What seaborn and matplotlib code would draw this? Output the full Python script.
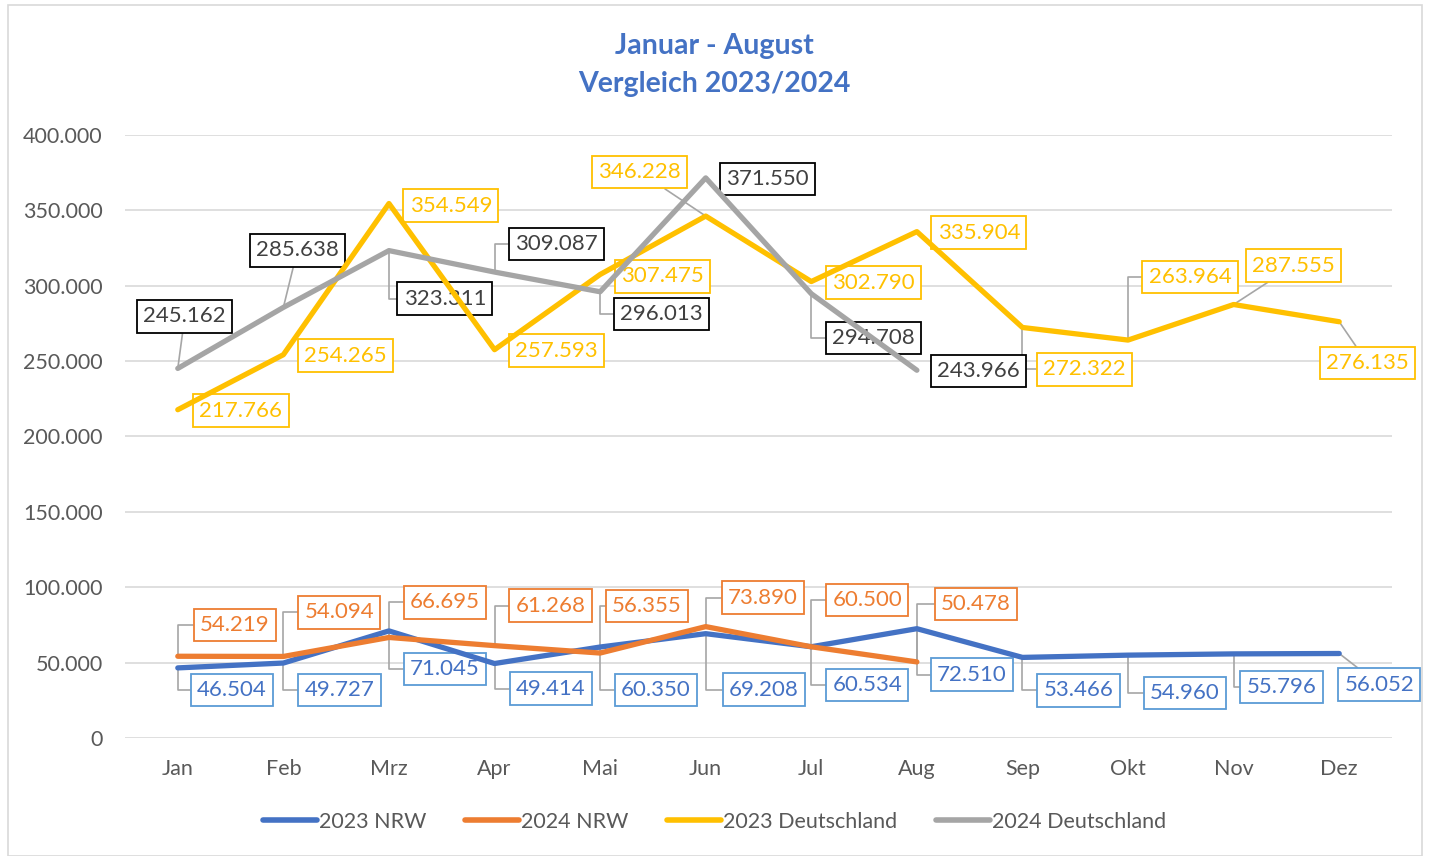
import pandas as pd
import matplotlib.pyplot as plt
import matplotlib.ticker as mticker
from matplotlib.patches import Rectangle
import seaborn as sns

months = ["Jan", "Feb", "Mrz", "Apr", "Mai", "Jun", "Jul", "Aug", "Sep", "Okt", "Nov", "Dez"]
nrw_2023 = [46504, 49727, 71045, 49414, 60350, 69208, 60534, 72510, 53466, 54960, 55796, 56052]
nrw_2024 = [54219, 54094, 66695, 61268, 56355, 73890, 60500, 50478]
de_2023 = [217766, 254265, 354549, 257593, 307475, 346228, 302790, 335904, 272322, 263964, 287555, 276135]
de_2024 = [245162, 285638, 323311, 309087, 296013, 371550, 294708, 243966]
series_names = ["2023 NRW", "2024 NRW", "2023 Deutschland", "2024 Deutschland"]

colors = {"2023 NRW": "#4472C4", "2024 NRW": "#ED7D31",
          "2023 Deutschland": "#FFC000", "2024 Deutschland": "#A5A5A5"}
# label text colour, box edge colour
label_style = {"2023 NRW": ("#4472C4", "#5B9BD5"), "2024 NRW": ("#ED7D31", "#ED7D31"),
               "2023 Deutschland": ("#FFC000", "#FFC000"), "2024 Deutschland": ("#404040", "#000000")}
# label offsets in pixels (dx, dy), dy positive = up
offsets = {
    "2023 NRW": [(54, -22), (56, -27), (56, -38), (56, -25), (56, -43), (58, -56), (56, -38), (55, -46),
                 (56, -33), (57, -38), (48, -33), (40, -31)],
    "2024 NRW": [(57, 31), (56, 44), (56, 35), (56, 40), (47, 47), (57, 29), (56, 47), (59, 58)],
    "2023 Deutschland": [(63, -1), (62, -1), (62, -2), (62, -1), (62, -2), (-66, 44), (62, -1), (62, -1),
                         (62, -42), (62, 63), (60, 39), (28, -41)],
    "2024 Deutschland": [(7, 52), (14, 57), (56, -48), (62, 28), (61, -22), (62, -1), (62, -44), (62, -1)],
}
values = {"2023 NRW": nrw_2023, "2024 NRW": nrw_2024,
          "2023 Deutschland": de_2023, "2024 Deutschland": de_2024}

rows = []
for name in series_names:
    for i, v in enumerate(values[name]):
        rows.append({"idx": i, "value": v, "series": name})
df = pd.DataFrame(rows)

sns.set_theme(style="white")
plt.rcParams["font.family"] = ["Lato", "DejaVu Sans"]

fig = plt.figure(figsize=(14.29, 8.56), dpi=100)
ax = fig.add_axes([125 / 1429, (856 - 738) / 856, (1392 - 125) / 1429, (738 - 135) / 856])

sns.lineplot(data=df, x="idx", y="value", hue="series", hue_order=series_names,
             palette=colors, linewidth=3.8, ax=ax, legend=False, sort=False,
             solid_capstyle="round", zorder=4)

ax.set_xlim(-0.5, 11.5)
ax.set_ylim(0, 400000)
ax.set_yticks(range(0, 400001, 50000))
ax.yaxis.set_major_formatter(mticker.FuncFormatter(lambda v, p: f"{int(v):,}".replace(",", ".")))
ax.set_xticks(range(12))
ax.set_xticklabels(months)
ax.tick_params(axis="both", labelsize=15.5, colors="#595959", length=0)
ax.tick_params(axis="x", pad=15)
ax.tick_params(axis="y", pad=16)
ax.grid(axis="y", color="#d9d9d9", linewidth=1.2)
ax.set_axisbelow(True)
for s in ax.spines.values():
    s.set_visible(False)
ax.set_xlabel("")
ax.set_ylabel("")

for name in series_names:
    tc, ec = label_style[name]
    for i, v in enumerate(values[name]):
        dx, dy = offsets[name][i]
        label = f"{v:,}".replace(",", ".")
        kw = {}
        if abs(dy) > 15:
            elbow = dx > 40 and not (name == "2023 Deutschland" and i >= 10)
            kw["arrowprops"] = dict(arrowstyle="-", color="#a6a6a6", lw=1.2, shrinkA=0, shrinkB=0,
                                    connectionstyle="angle,angleA=0,angleB=90,rad=0" if elbow else "arc3")
        ax.annotate(label, xy=(i, v), xytext=(dx, dy), textcoords="offset pixels",
                    ha="center", va="center", fontsize=16, color=tc, zorder=3,
                    bbox=dict(boxstyle="square,pad=0.28", fc="white", ec=ec, lw=1.3), **kw)

fig.text(0.5, 1 - 46 / 856, "Januar - August", ha="center", va="center",
         fontsize=20.5, fontweight="bold", color="#4472C4")
fig.text(0.5, 1 - 84 / 856, "Vergleich 2023/2024", ha="center", va="center",
         fontsize=20.5, fontweight="bold", color="#4472C4")

handles = [plt.Line2D([], [], color=colors[n], lw=4, solid_capstyle="round") for n in series_names]
fig.legend(handles, series_names, loc="center", bbox_to_anchor=(0.5, 34 / 856), ncol=4,
           frameon=False, fontsize=15.5, labelcolor="#595959", handlelength=2.5,
           handletextpad=0.1, columnspacing=1.8)

fig.patches.append(Rectangle((8 / 1429, 0), 1414 / 1429, 851 / 856, transform=fig.transFigure,
                             fill=False, ec="#d9d9d9", lw=1.2))

fig.savefig("out.png", dpi=100)
